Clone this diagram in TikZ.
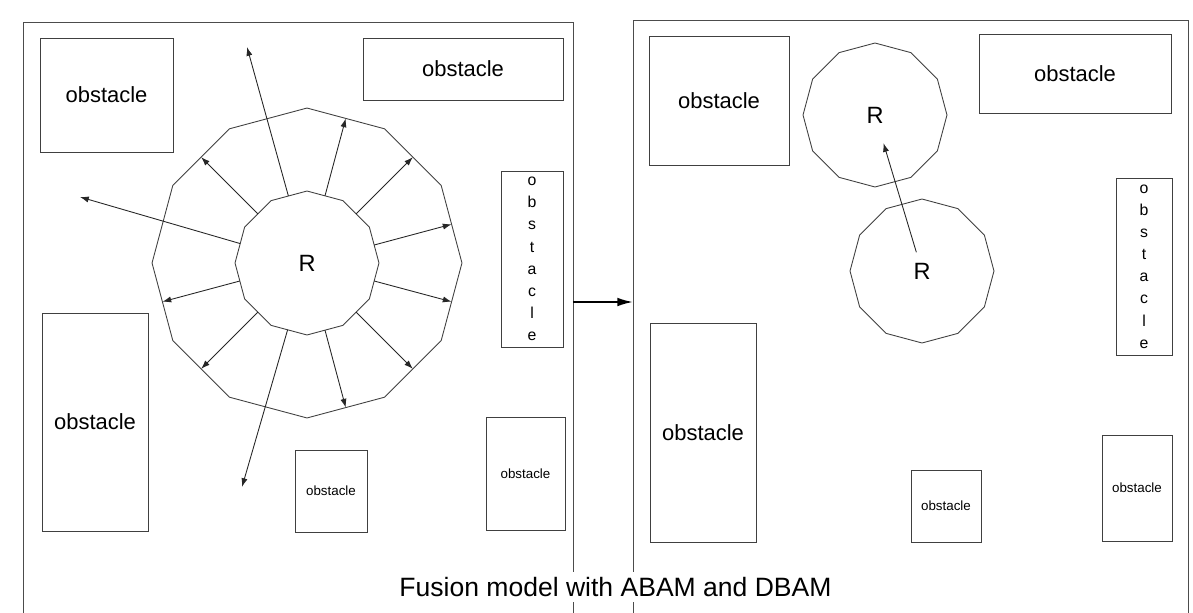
\documentclass[tikz,border=0pt]{standalone}
\usepackage{fontspec}
\setmainfont{Liberation Sans}
\usetikzlibrary{arrows.meta,calc,shapes.geometric}

\begin{document}
\begin{tikzpicture}[x=0.02cm, y=-0.02cm,
                line width=0.5pt,
                panel/.style={rectangle, draw=black!70, inner sep=0pt, outer sep=0pt},
                obs/.style={rectangle, draw=black!75, inner sep=0pt, outer sep=0pt, align=center, font=\fontsize{12.5}{14}\selectfont},
                smallobs/.style={obs, font=\fontsize{7.6}{9}\selectfont},
                tallobs/.style={obs, font=\fontsize{9}{12.6}\selectfont},
                robot/.style={regular polygon, regular polygon sides=12, shape border rotate=15, draw=black!75, fill=white, inner sep=0pt, outer sep=0pt, minimum size=2.88cm, font=\fontsize{13.4}{15}\selectfont},
                reach/.style={regular polygon, regular polygon sides=12, shape border rotate=15, draw=black!75, inner sep=0pt, outer sep=0pt, minimum size=6.2cm},
                ray/.style={-{Latex[length=5pt,width=3.5pt]}, draw=black!85},
                fuse/.style={-{Latex[length=9pt,width=5pt]}, line width=1.1pt},
            ]
            \useasboundingbox (0,0) rectangle (1193,612);

            % the two panels, left open at the bottom
            \node[panel, minimum width=11cm, minimum height=12.56cm] (before) at (298,336) {};
            \node[panel, minimum width=11.1cm, minimum height=12.6cm] (after) at (910.5,335) {};

            % left panel: robot with its reach ring
            \node[obs, minimum width=2.66cm, minimum height=2.28cm] (lobsA) at (106.5,95) {obstacle};
            \node[obs, minimum width=4cm, minimum height=1.24cm] (lobsB) at (463,69) {obstacle};
            \node[tallobs, minimum width=1.24cm, minimum height=3.52cm] (lobsC) at (532,259) {o\\b\\s\\t\\a\\c\\l\\e};
            \node[obs, minimum width=2.12cm, minimum height=4.36cm] (lobsD) at (95,422) {obstacle};
            \node[smallobs, minimum width=1.44cm, minimum height=1.64cm] (lobsE) at (331,491) {obstacle};
            \node[smallobs, minimum width=1.58cm, minimum height=2.26cm] (lobsF) at (525.5,473.5) {obstacle};

            \node[reach] (ring) at (307,263) {};
            \node[robot] (rob) at (307,263) {R};
            \foreach \a in {15,45,75,135,195,225,285,315,345}
                \draw[ray] (rob.\a) -- (ring.\a);
            \coordinate (tipN) at (247,47);
            \coordinate (tipW) at (80,197);
            \coordinate (tipS) at (242,487);
            \draw[ray] (rob) -- (tipN);
            \draw[ray] (rob) -- (tipW);
            \draw[ray] (rob) -- (tipS);

            % right panel: robot moved
            \node[obs, minimum width=2.8cm, minimum height=2.58cm] (robsA) at (719,100.5) {obstacle};
            \node[obs, minimum width=3.84cm, minimum height=1.58cm] (robsB) at (1075,73.5) {obstacle};
            \node[tallobs, minimum width=1.12cm, minimum height=3.54cm] (robsC) at (1144,266.5) {o\\b\\s\\t\\a\\c\\l\\e};
            \node[obs, minimum width=2.12cm, minimum height=4.38cm] (robsD) at (703,432.5) {obstacle};
            \node[smallobs, minimum width=1.4cm, minimum height=1.44cm] (robsE) at (946,506) {obstacle};
            \node[smallobs, minimum width=1.4cm, minimum height=2.12cm] (robsF) at (1137,488) {obstacle};

            \node[robot] (rtop) at (875,115) {R};
            \node[robot] (rbot) at (922,271) {R};
            \draw[ray] ($(rbot.center)!0.12!(rtop.center)$) -- ($(rtop.center)!0.18!(rbot.center)$);

            % hand-over between panels
            \coordinate (handover) at (603,302);
            \draw[fuse] (handover -| before.east) -- (handover -| after.west);

            \node[fill=white, inner sep=3pt, font=\fontsize{15.1}{17}\selectfont] (title) at (615.5,587) {Fusion model with ABAM and DBAM};
        \end{tikzpicture}
\end{document}
